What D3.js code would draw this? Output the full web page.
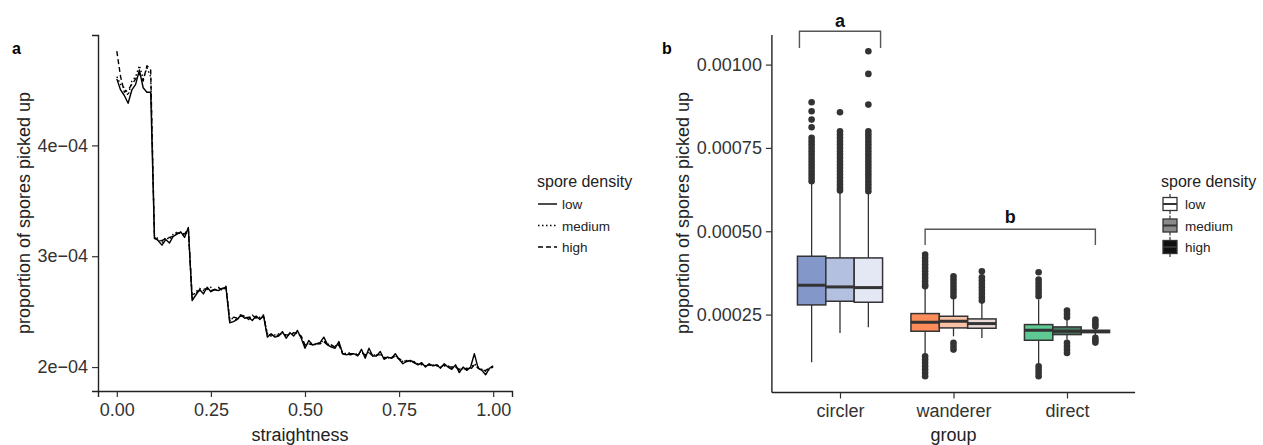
<!DOCTYPE html>
<html>
<head>
<meta charset="utf-8">
<style>
  body { margin: 0; background: #fff; }
  svg { display: block; font-family: "Liberation Sans", Arial, sans-serif; }
</style>
</head>
<body>
<svg id="chart" width="1263" height="445"></svg>
<script src="https://d3js.org/d3.v7.min.js"></script>
<script>
// ---------- panel a data (proportion x 1e-4) ----------
const straightness = d3.range(101).map(i => i / 100);
const lowLine = [
  4.60, 4.50, 4.45, 4.38, 4.50, 4.55, 4.68, 4.52, 4.48, 4.48,
  3.17, 3.14, 3.10, 3.15, 3.12, 3.18, 3.20, 3.22, 3.17, 3.26,
  2.60, 2.65, 2.70, 2.66, 2.72, 2.68, 2.70, 2.69, 2.71, 2.72,
  2.40, 2.41, 2.43, 2.47, 2.44, 2.45, 2.42, 2.46, 2.43, 2.46,
  2.27, 2.30, 2.27, 2.28, 2.32, 2.26, 2.31, 2.28, 2.33, 2.26,
  2.17, 2.24, 2.20, 2.21, 2.22, 2.27, 2.20, 2.18, 2.17, 2.23,
  2.12, 2.11, 2.12, 2.12, 2.10, 2.16, 2.08, 2.17, 2.10, 2.10,
  2.14, 2.07, 2.09, 2.08, 2.12, 2.07, 2.03, 2.05, 2.06, 2.04,
  2.02, 2.04, 2.00, 2.03, 2.01, 2.02, 1.99, 2.03, 2.00, 1.98,
  2.02, 1.95, 2.00, 1.97, 2.00, 2.12, 1.99, 1.97, 1.93, 1.99, 2.00
];
const mediumLine = [
  4.62, 4.55, 4.52, 4.45, 4.58, 4.62, 4.72, 4.60, 4.70, 4.62,
  3.18, 3.16, 3.12, 3.17, 3.15, 3.20, 3.22, 3.20, 3.19, 3.24,
  2.63, 2.68, 2.71, 2.69, 2.70, 2.72, 2.68, 2.71, 2.70, 2.73,
  2.43, 2.44, 2.42, 2.48, 2.45, 2.44, 2.47, 2.44, 2.45, 2.47,
  2.30, 2.28, 2.29, 2.30, 2.31, 2.28, 2.30, 2.30, 2.31, 2.27,
  2.19, 2.22, 2.21, 2.20, 2.22, 2.24, 2.21, 2.19, 2.19, 2.21,
  2.13, 2.12, 2.13, 2.11, 2.12, 2.14, 2.10, 2.14, 2.11, 2.11,
  2.12, 2.09, 2.08, 2.09, 2.10, 2.08, 2.05, 2.06, 2.05, 2.05,
  2.03, 2.02, 2.01, 2.02, 2.02, 2.01, 2.00, 2.01, 2.01, 1.99,
  2.00, 1.97, 1.99, 1.98, 1.99, 2.03, 2.00, 1.98, 1.96, 1.98, 2.00
];
const highLine = [
  4.85, 4.62, 4.48, 4.50, 4.55, 4.60, 4.65, 4.58, 4.72, 4.68,
  3.16, 3.15, 3.14, 3.16, 3.17, 3.18, 3.21, 3.21, 3.20, 3.25,
  2.65, 2.67, 2.69, 2.70, 2.71, 2.69, 2.70, 2.72, 2.69, 2.72,
  2.42, 2.45, 2.44, 2.46, 2.46, 2.43, 2.46, 2.45, 2.44, 2.46,
  2.29, 2.29, 2.28, 2.29, 2.30, 2.29, 2.29, 2.31, 2.30, 2.28,
  2.20, 2.21, 2.20, 2.21, 2.21, 2.23, 2.20, 2.20, 2.18, 2.20,
  2.12, 2.12, 2.11, 2.12, 2.11, 2.13, 2.11, 2.13, 2.10, 2.11,
  2.11, 2.08, 2.09, 2.08, 2.10, 2.07, 2.06, 2.05, 2.06, 2.04,
  2.03, 2.03, 2.01, 2.02, 2.01, 2.02, 2.00, 2.02, 2.00, 2.00,
  2.00, 1.98, 1.98, 1.99, 1.98, 2.02, 1.99, 1.97, 1.97, 1.99, 2.01
];
const densities = ["low", "medium", "high"];
const xTicksA = [0, 0.25, 0.5, 0.75, 1];
const yTicksA = [2, 3, 4];

// ---------- panel b data ----------
const groups = ["circler", "wanderer", "direct"];
const boxGroup   = ["circler","circler","circler","wanderer","wanderer","wanderer","direct","direct","direct"];
const boxDensity = ["low","medium","high","low","medium","high","low","medium","high"];
const boxQ1  = [0.000279, 0.000290, 0.000287, 0.000200, 0.000210, 0.000209, 0.000173, 0.000190, 0.000196];
const boxMed = [0.000338, 0.000333, 0.000331, 0.000227, 0.000230, 0.000223, 0.000203, 0.000200, 0.000199];
const boxQ3  = [0.000425, 0.000420, 0.000420, 0.000253, 0.000245, 0.000237, 0.000220, 0.000213, 0.000203];
const boxLo  = [0.000107, 0.000195, 0.000212, 0.000130, 0.000185, 0.000180, 0.000100, 0.000175, 0.000183];
const boxHi  = [0.000646, 0.000620, 0.000617, 0.000330, 0.000300, 0.000285, 0.000295, 0.000235, 0.000212];
const boxOutliers = [
  [0.000887, 0.000860, 0.000835, 0.000812, 0.000780, 0.000770, 0.000760, 0.000750, 0.000740, 0.000730, 0.000720, 0.000710, 0.000700, 0.000690, 0.000680, 0.000670, 0.000660, 0.000650],
  [0.000857, 0.000800, 0.000790, 0.000780, 0.000770, 0.000760, 0.000750, 0.000740, 0.000730, 0.000720, 0.000710, 0.000700, 0.000690, 0.000680, 0.000670, 0.000660, 0.000650, 0.000640, 0.000630, 0.000622],
  [0.001040, 0.000972, 0.000880, 0.000800, 0.000790, 0.000780, 0.000770, 0.000760, 0.000750, 0.000740, 0.000730, 0.000720, 0.000710, 0.000700, 0.000690, 0.000680, 0.000670, 0.000660, 0.000650, 0.000640, 0.000630, 0.000620],
  [0.000430, 0.000420, 0.000410, 0.000400, 0.000390, 0.000380, 0.000370, 0.000360, 0.000350, 0.000340, 0.000335, 0.000125, 0.000115, 0.000105, 0.000095, 0.000085, 0.000075, 0.000065],
  [0.000365, 0.000355, 0.000345, 0.000335, 0.000325, 0.000315, 0.000305, 0.000165, 0.000155, 0.000145],
  [0.000380, 0.000362, 0.000352, 0.000342, 0.000332, 0.000322, 0.000312, 0.000302, 0.000292],
  [0.000377, 0.000355, 0.000345, 0.000335, 0.000325, 0.000315, 0.000305, 0.000095, 0.000085, 0.000075, 0.000065],
  [0.000262, 0.000252, 0.000242, 0.000165, 0.000155, 0.000145, 0.000135],
  [0.000235, 0.000228, 0.000221, 0.000214, 0.000180, 0.000173, 0.000166]
];
const yTicksB = [0.00025, 0.0005, 0.00075, 0.001];

// fill colours (group x density)
const boxFill = ["#8497c9", "#b3c0e0", "#e3e8f4", "#fc8d5a", "#f9c2a6", "#ecdada", "#5fc994", "#4a7a62", "#3a3a3a"];

// ---------- setup ----------
const svg = d3.select("#chart");
const textCol = "#222";
const tickCol = "#333";

// ======================= PANEL A =======================
const xA = d3.scaleLinear().domain([-0.05, 1.05]).range([98, 512]);
const allA = lowLine.concat(mediumLine, highLine);
const ext = d3.extent(allA);
const padA = (ext[1] - ext[0]) * 0.05;
const yA = d3.scaleLinear().domain([ext[0] - padA, ext[1] + padA]).range([391, 35]);

const gA = svg.append("g");

// axes
const axAx = gA.append("g").attr("transform", "translate(0,391)")
  .call(d3.axisBottom(xA).tickValues(xTicksA).tickFormat(d3.format(".2f")).tickSizeOuter(0).tickSize(6).tickPadding(6));
const axAy = gA.append("g").attr("transform", "translate(98,0)")
  .call(d3.axisLeft(yA).tickValues(yTicksA).tickFormat(d => d + "e\u221204").tickSizeOuter(0).tickSize(6).tickPadding(4));
[axAx, axAy].forEach(a => {
  a.select(".domain").attr("stroke", "#222").attr("stroke-width", 1.4);
  a.selectAll(".tick line").attr("stroke", "#333").attr("stroke-width", 1.2);
  a.selectAll(".tick text").attr("fill", tickCol).style("font-size", "18px");
});

// lines
const lineStyles = { low: null, medium: "1.5,2.5", high: "5,3" };
const seriesA = [lowLine, mediumLine, highLine];
const lineGen = d3.line().x((d, i) => xA(straightness[i])).y(d => yA(d));
seriesA.forEach((s, k) => {
  gA.append("path").datum(s)
    .attr("d", lineGen)
    .attr("fill", "none")
    .attr("stroke", "#000")
    .attr("stroke-width", 1.4)
    .attr("stroke-linejoin", "round")
    .attr("stroke-dasharray", lineStyles[densities[k]]);
});

// titles
gA.append("text").attr("x", 12).attr("y", 54).text("a")
  .style("font-weight", "bold").style("font-size", "16px").attr("fill", "#000");
gA.append("text").attr("transform", "translate(30,213) rotate(-90)")
  .attr("text-anchor", "middle").style("font-size", "18px").attr("fill", textCol)
  .text("proportion of spores picked up");
gA.append("text").attr("x", 300).attr("y", 441).attr("text-anchor", "middle")
  .style("font-size", "18px").attr("fill", textCol).text("straightness");

// legend a
const legA = gA.append("g").attr("transform", "translate(537,0)");
legA.append("text").attr("x", 0).attr("y", 187).style("font-size", "16px").attr("fill", textCol).text("spore density");
densities.forEach((d, i) => {
  const yy = 204 + i * 21.5;
  legA.append("line").attr("x1", 1).attr("x2", 20).attr("y1", yy).attr("y2", yy)
    .attr("stroke", "#000").attr("stroke-width", 1.4).attr("stroke-dasharray", lineStyles[d]);
  legA.append("text").attr("x", 25).attr("y", yy + 5).style("font-size", "13.5px").attr("fill", textCol).text(d);
});

// ======================= PANEL B =======================
const xB = d3.scalePoint().domain(groups).range([840, 1067]);
const stepB = xB.step();
const dodge = d3.scaleBand().domain(densities).range([-0.375 * stepB, 0.375 * stepB]);
const allB = boxOutliers.flat().concat(boxLo, boxHi);
const extB = d3.extent(allB);
const padB = (extB[1] - extB[0]) * 0.05;
const yB = d3.scaleLinear().domain([extB[0] - padB, extB[1] + padB]).range([392.5, 35]);

const gB = svg.append("g");

// axes
const leftB = xB(groups[0]) - 0.6 * stepB;
const rightB = xB(groups[2]) + 0.6 * stepB;
const axBx = gB.append("g").attr("transform", "translate(0,392.5)")
  .call(d3.axisBottom(xB).tickSizeOuter(0).tickSize(6).tickPadding(6));
axBx.select(".domain").attr("d", `M${leftB},0H${rightB}`);
const axBy = gB.append("g").attr("transform", `translate(${leftB},0)`)
  .call(d3.axisLeft(yB).tickValues(yTicksB).tickFormat(d3.format(".5f")).tickSizeOuter(0).tickSize(6).tickPadding(4));
axBy.select(".domain").attr("d", `M0,${yB.range()[0]}V${yB.range()[1]}`);
[axBx, axBy].forEach(a => {
  a.select(".domain").attr("stroke", "#222").attr("stroke-width", 1.4);
  a.selectAll(".tick line").attr("stroke", "#333").attr("stroke-width", 1.2);
  a.selectAll(".tick text").attr("fill", tickCol).style("font-size", "18px");
});

// boxes
const bw = dodge.bandwidth();
boxGroup.forEach((grp, i) => {
  const cx = xB(grp) + dodge(boxDensity[i]) + bw / 2;
  const g = gB.append("g");
  g.append("line").attr("x1", cx).attr("x2", cx).attr("y1", yB(boxQ3[i])).attr("y2", yB(boxHi[i]))
    .attr("stroke", "#333").attr("stroke-width", 1.3);
  g.append("line").attr("x1", cx).attr("x2", cx).attr("y1", yB(boxQ1[i])).attr("y2", yB(boxLo[i]))
    .attr("stroke", "#333").attr("stroke-width", 1.3);
  g.append("rect").attr("x", cx - bw / 2).attr("width", bw)
    .attr("y", yB(boxQ3[i])).attr("height", Math.max(yB(boxQ1[i]) - yB(boxQ3[i]), 0.5))
    .attr("fill", boxFill[i]).attr("stroke", "#333").attr("stroke-width", 1.5);
  g.append("line").attr("x1", cx - bw / 2).attr("x2", cx + bw / 2)
    .attr("y1", yB(boxMed[i])).attr("y2", yB(boxMed[i]))
    .attr("stroke", "#333").attr("stroke-width", 3);
  g.selectAll("circle").data(boxOutliers[i]).join("circle")
    .attr("cx", cx).attr("cy", d => yB(d)).attr("r", 3.3).attr("fill", "#333");
});

// significance brackets
const brackets = [
  { label: "a", from: ["circler", "low"], to: ["circler", "high"], top: 0.0011, bottom: 0.00105, text: 0.001113, inset: 2 },
  { label: "b", from: ["wanderer", "low"], to: ["direct", "high"], top: 0.000506, bottom: 0.000459, text: 0.000525, inset: bw / 2 }
];
brackets.forEach(b => {
  const x1 = xB(b.from[0]) + dodge(b.from[1]) + b.inset;
  const x2 = xB(b.to[0]) + dodge(b.to[1]) + bw - b.inset;
  gB.append("path")
    .attr("d", `M${x1},${yB(b.bottom)}V${yB(b.top)}H${x2}V${yB(b.bottom)}`)
    .attr("fill", "none").attr("stroke", "#555").attr("stroke-width", 1.4);
  gB.append("text").attr("x", (x1 + x2) / 2).attr("y", yB(b.text)).attr("text-anchor", "middle")
    .style("font-weight", "bold").style("font-size", "18px").attr("fill", "#111").text(b.label);
});

// titles
gB.append("text").attr("x", 662).attr("y", 54).text("b")
  .style("font-weight", "bold").style("font-size", "16px").attr("fill", "#000");
gB.append("text").attr("transform", "translate(689,213) rotate(-90)")
  .attr("text-anchor", "middle").style("font-size", "18px").attr("fill", textCol)
  .text("proportion of spores picked up");
gB.append("text").attr("x", (leftB + rightB) / 2).attr("y", 441).attr("text-anchor", "middle")
  .style("font-size", "18px").attr("fill", textCol).text("group");

// legend b
const legFill = ["#ffffff", "#8a8a8a", "#111111"];
const legB = gB.append("g").attr("transform", "translate(1161,0)");
legB.append("text").attr("x", 0).attr("y", 187).style("font-size", "16px").attr("fill", textCol).text("spore density");
densities.forEach((d, i) => {
  const yy = 204 + i * 21.5;
  legB.append("line").attr("x1", 9).attr("x2", 9).attr("y1", yy - 10).attr("y2", yy + 10)
    .attr("stroke", "#333").attr("stroke-width", 1.2);
  legB.append("rect").attr("x", 2).attr("y", yy - 6.5).attr("width", 14).attr("height", 13)
    .attr("fill", legFill[i]).attr("stroke", "#333").attr("stroke-width", 1.3);
  legB.append("line").attr("x1", 2).attr("x2", 16).attr("y1", yy).attr("y2", yy)
    .attr("stroke", "#333").attr("stroke-width", 2);
  legB.append("text").attr("x", 24).attr("y", yy + 5).style("font-size", "13.5px").attr("fill", textCol).text(d);
});
</script>
</body>
</html>
